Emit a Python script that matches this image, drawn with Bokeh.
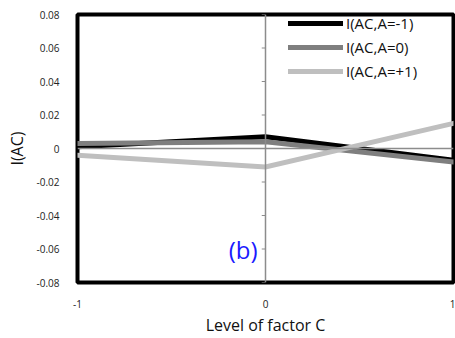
from bokeh.plotting import figure
from bokeh.models import Range1d, Span, Legend, LegendItem, Label, FixedTicker
from bokeh.embed import file_html
from bokeh.resources import INLINE

levels_c = [-1, 0, 1]
ac_a_minus1 = [0.001, 0.007, -0.007]
ac_a_zero = [0.003, 0.004, -0.008]
ac_a_plus1 = [-0.004, -0.011, 0.015]
y_ticks = [-0.08, -0.06, -0.04, -0.02, 0, 0.02, 0.04, 0.06, 0.08]
y_tick_labels = {-0.08: "-0.08", -0.06: "-0.06", -0.04: "-0.04", -0.02: "-0.02", 0: "0",
                 0.02: "0.02", 0.04: "0.04", 0.06: "0.06", 0.08: "0.08"}
x_ticks = [-1, 0, 1]
x_tick_labels = {-1: "-1", 0: "0", 1: "1"}
series_names = ["I(AC,A=-1)", "I(AC,A=0)", "I(AC,A=+1)"]
FONT = "Open Sans"

p = figure(width=455, height=338, output_backend="svg", toolbar_location=None,
           x_range=Range1d(-1, 1), y_range=Range1d(-0.08, 0.08),
           min_border_left=77, min_border_right=2, min_border_top=14, min_border_bottom=53)
p.background_fill_color = "white"
p.border_fill_color = "white"
p.outline_line_color = "black"
p.outline_line_width = 4
p.grid.visible = False

for ax in (p.xaxis[0], p.yaxis[0]):
    ax.axis_line_color = None
    ax.major_tick_line_color = None
    ax.minor_tick_line_color = None
    ax.major_label_text_font = FONT
    ax.major_label_text_font_size = "10px"
    ax.major_label_text_color = "#222222"
    ax.axis_label_text_font = FONT
    ax.axis_label_text_font_style = "normal"
    ax.axis_label_text_font_size = "16px"
    ax.axis_label_text_color = "#111111"

p.yaxis.ticker = FixedTicker(ticks=y_ticks)
p.yaxis.major_label_overrides = y_tick_labels
p.yaxis.major_label_standoff = 12
p.yaxis.axis_label = "I(AC)"
p.yaxis.axis_label_standoff = 6
p.xaxis.ticker = FixedTicker(ticks=x_ticks)
p.xaxis.major_label_overrides = x_tick_labels
p.xaxis.major_label_standoff = 11
p.xaxis.axis_label = "Level of factor C"
p.xaxis.axis_label_standoff = 3

# crossing axes at zero
p.add_layout(Span(location=0, dimension="height", line_color="#8c8c8c", line_width=1.5))
p.add_layout(Span(location=0, dimension="width", line_color="#8c8c8c", line_width=1.5))
p.segment(x0=[-0.02] * len(y_ticks), x1=[0] * len(y_ticks), y0=y_ticks, y1=y_ticks,
          line_color="#8c8c8c", line_width=1.2)

r1 = p.line(levels_c, ac_a_minus1, line_color="#000000", line_width=5, line_join="miter", line_cap="round")
r2 = p.line(levels_c, ac_a_zero, line_color="#7f7f7f", line_width=5, line_join="miter", line_cap="round")
r3 = p.line(levels_c, ac_a_plus1, line_color="#bfbfbf", line_width=5, line_join="miter", line_cap="round")

legend = Legend(items=[LegendItem(label=series_names[0], renderers=[r1]),
                       LegendItem(label=series_names[1], renderers=[r2]),
                       LegendItem(label=series_names[2], renderers=[r3])],
                location=(211, 199), margin=0, padding=0, spacing=0,
                glyph_width=55, glyph_height=24, label_height=24, label_standoff=3,
                border_line_alpha=0, background_fill_alpha=0,
                label_text_font=FONT, label_text_font_size="15px", label_text_color="#111111")
p.add_layout(legend)

p.add_layout(Label(x=0, y=-0.06, x_offset=-8, text="(b)", text_align="right",
                   text_baseline="middle", text_color="#1a1aff", text_font=FONT,
                   text_font_size="24px"))

open("out.html", "w").write(file_html(p, INLINE))
